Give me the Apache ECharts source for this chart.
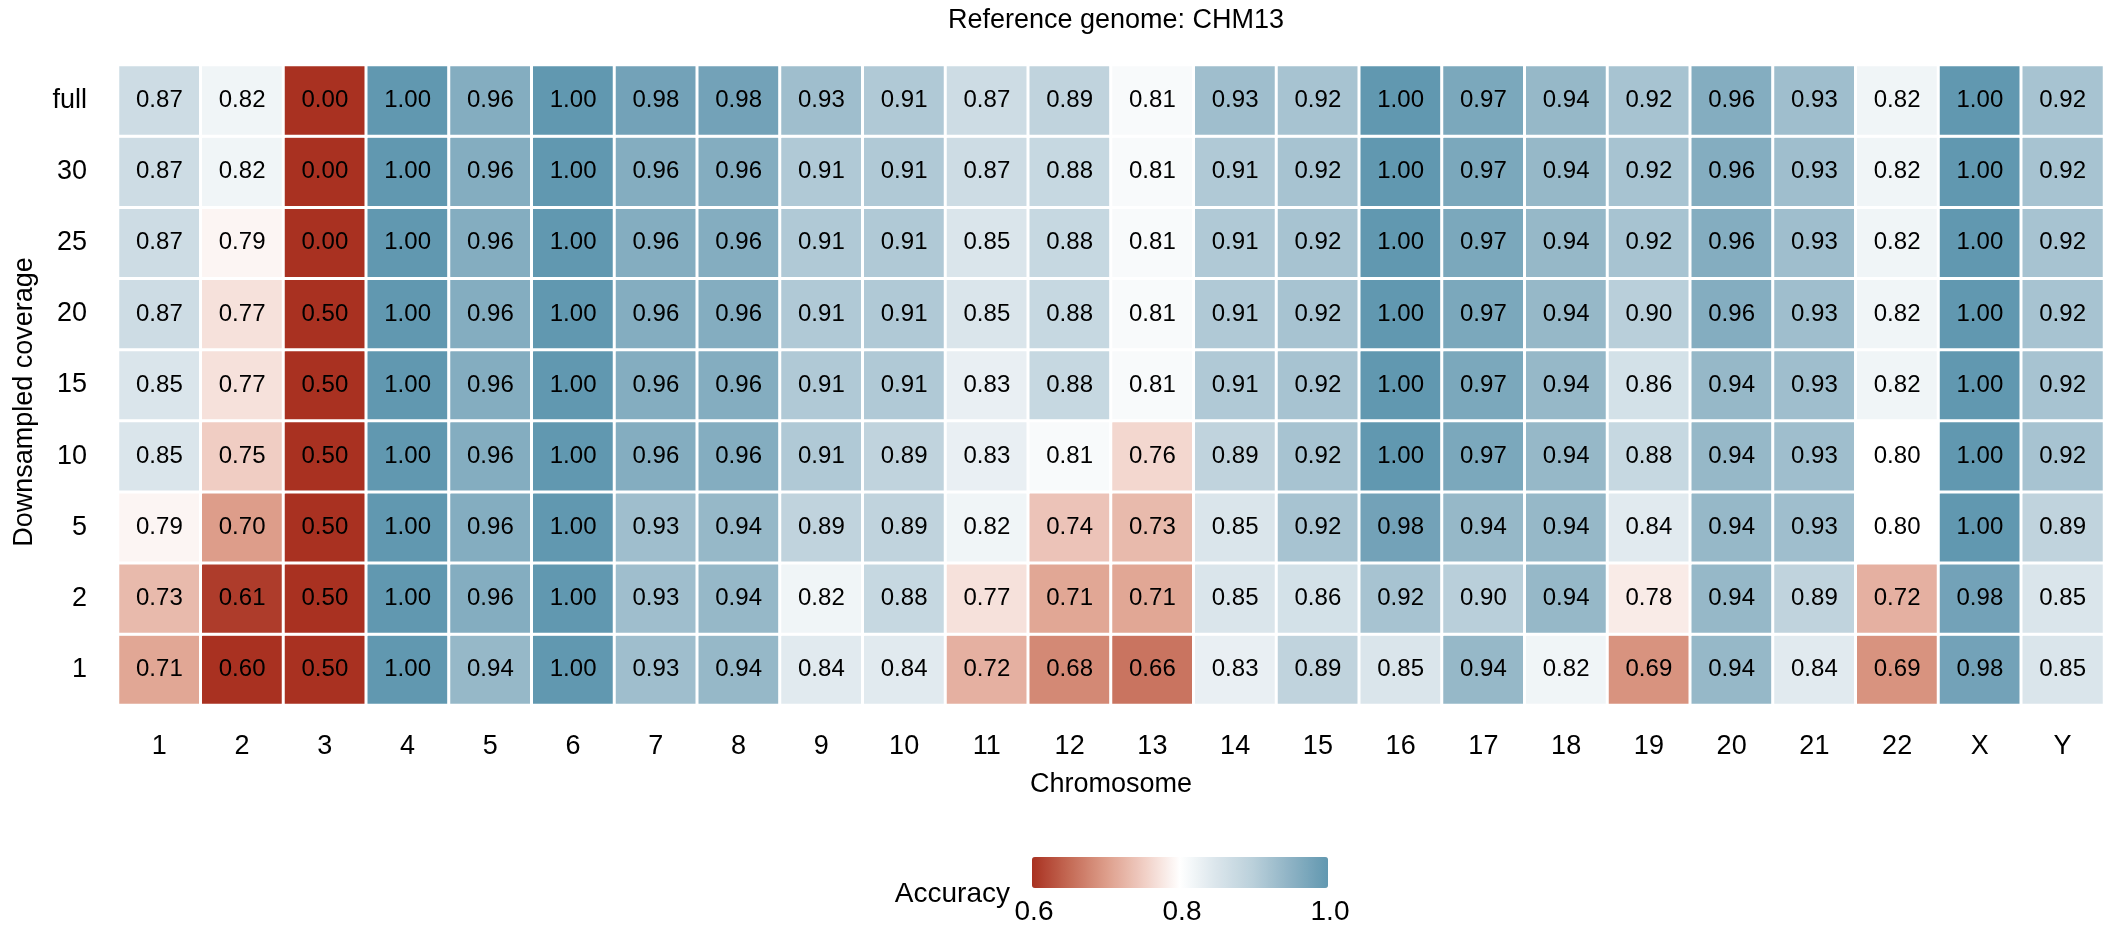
<!DOCTYPE html>
<html>
<head>
<meta charset="utf-8">
<title>Reference genome: CHM13</title>
<script src="https://cdn.jsdelivr.net/npm/echarts@6/dist/echarts.min.js"></script>
<style>
  html, body { margin: 0; padding: 0; background: #fff; }
  #chart { width: 2125px; height: 941px; }
</style>
</head>
<body>
<div id="chart"></div>
<script>
// x categories (chromosomes)
const chromosomes = ['1','2','3','4','5','6','7','8','9','10','11','12','13','14','15','16','17','18','19','20','21','22','X','Y']
// y categories, bottom -> top
const coverages = ['1','2','5','10','15','20','25','30','full']

// accuracy per coverage row, one value per chromosome
const accFull = [0.87,0.82,0.00,1.00,0.96,1.00,0.98,0.98,0.93,0.91,0.87,0.89,0.81,0.93,0.92,1.00,0.97,0.94,0.92,0.96,0.93,0.82,1.00,0.92]
const acc30   = [0.87,0.82,0.00,1.00,0.96,1.00,0.96,0.96,0.91,0.91,0.87,0.88,0.81,0.91,0.92,1.00,0.97,0.94,0.92,0.96,0.93,0.82,1.00,0.92]
const acc25   = [0.87,0.79,0.00,1.00,0.96,1.00,0.96,0.96,0.91,0.91,0.85,0.88,0.81,0.91,0.92,1.00,0.97,0.94,0.92,0.96,0.93,0.82,1.00,0.92]
const acc20   = [0.87,0.77,0.50,1.00,0.96,1.00,0.96,0.96,0.91,0.91,0.85,0.88,0.81,0.91,0.92,1.00,0.97,0.94,0.90,0.96,0.93,0.82,1.00,0.92]
const acc15   = [0.85,0.77,0.50,1.00,0.96,1.00,0.96,0.96,0.91,0.91,0.83,0.88,0.81,0.91,0.92,1.00,0.97,0.94,0.86,0.94,0.93,0.82,1.00,0.92]
const acc10   = [0.85,0.75,0.50,1.00,0.96,1.00,0.96,0.96,0.91,0.89,0.83,0.81,0.76,0.89,0.92,1.00,0.97,0.94,0.88,0.94,0.93,0.80,1.00,0.92]
const acc5    = [0.79,0.70,0.50,1.00,0.96,1.00,0.93,0.94,0.89,0.89,0.82,0.74,0.73,0.85,0.92,0.98,0.94,0.94,0.84,0.94,0.93,0.80,1.00,0.89]
const acc2    = [0.73,0.61,0.50,1.00,0.96,1.00,0.93,0.94,0.82,0.88,0.77,0.71,0.71,0.85,0.86,0.92,0.90,0.94,0.78,0.94,0.89,0.72,0.98,0.85]
const acc1    = [0.71,0.60,0.50,1.00,0.94,1.00,0.93,0.94,0.84,0.84,0.72,0.68,0.66,0.83,0.89,0.85,0.94,0.82,0.69,0.94,0.84,0.69,0.98,0.85]

// same order as coverages
const rows = [acc1, acc2, acc5, acc10, acc15, acc20, acc25, acc30, accFull]

// colour bar ticks
const legendTicks = [0.6, 0.8, 1.0]

const font = 'Liberation Sans, Arial, Helvetica, sans-serif'

// [x, y, value] triples for the heatmap
const cells = []
rows.forEach((row, yi) => {
  row.forEach((v, xi) => {
    cells.push([xi, yi, v])
  })
})

const chart = echarts.init(document.getElementById('chart'))

// legend labels under the colour bar (bar spans x 1034..1330)
const barLeft = 1034
const barLen = 296
const tickTexts = legendTicks.map(t => ({
  type: 'text',
  x: barLeft + (t - 0.6) / 0.4 * barLen,
  y: 912,
  style: {
    text: t.toFixed(1),
    font: '28px ' + font,
    fill: '#000',
    textAlign: 'center',
    textVerticalAlign: 'middle'
  }
}))

const option = {
  backgroundColor: '#fff',
  animation: false,
  title: {
    text: 'Reference genome: CHM13',
    left: 1111,
    top: 2,
    textAlign: 'center',
    textStyle: {
      fontSize: 27,
      fontWeight: 'normal',
      color: '#000',
      fontFamily: font
    }
  },
  grid: {
    left: 118,
    right: 21,
    top: 65,
    bottom: 236
  },
  xAxis: {
    type: 'category',
    data: chromosomes,
    name: 'Chromosome',
    nameLocation: 'middle',
    nameGap: 66,
    nameTextStyle: { fontSize: 27, color: '#000', fontFamily: font },
    axisLine: { show: false },
    axisTick: { show: false },
    splitArea: { show: false },
    axisLabel: { fontSize: 27, color: '#000', margin: 28, fontFamily: font }
  },
  yAxis: {
    type: 'category',
    data: coverages,
    name: 'Downsampled coverage',
    nameLocation: 'middle',
    nameGap: 80,
    nameTextStyle: { fontSize: 27, color: '#000', fontFamily: font, padding: [0, 34, 0, 0] },
    axisLine: { show: false },
    axisTick: { show: false },
    axisLabel: { fontSize: 27, color: '#000', margin: 31, fontFamily: font }
  },
  visualMap: {
    type: 'continuous',
    min: 0.6,
    max: 1.0,
    orient: 'horizontal',
    // component box has some inner offset, shift so the bar starts at barLeft
    left: barLeft - 17,
    top: 842,
    itemWidth: 31,
    itemHeight: barLen,
    calculable: false,
    text: null,
    showLabel: false,
    inRange: {
      color: ['#a93121', '#c46a55', '#dd9d8a', '#f0cdc3', '#ffffff', '#dae5eb', '#b9cfda', '#8db2c4', '#6198b0']
    }
  },
  graphic: [
    {
      type: 'text',
      x: 1010,
      y: 894,
      style: {
        text: 'Accuracy',
        font: '28px ' + font,
        fill: '#000',
        textAlign: 'right',
        textVerticalAlign: 'middle'
      }
    }
  ].concat(tickTexts),
  series: [
    {
      name: 'Accuracy',
      type: 'heatmap',
      data: cells,
      label: {
        show: true,
        fontSize: 24,
        color: '#000',
        fontFamily: font,
        formatter: p => p.value[2].toFixed(2)
      },
      itemStyle: {
        borderColor: '#fff',
        borderWidth: 3
      }
    }
  ]
}

chart.setOption(option)
</script>
</body>
</html>
